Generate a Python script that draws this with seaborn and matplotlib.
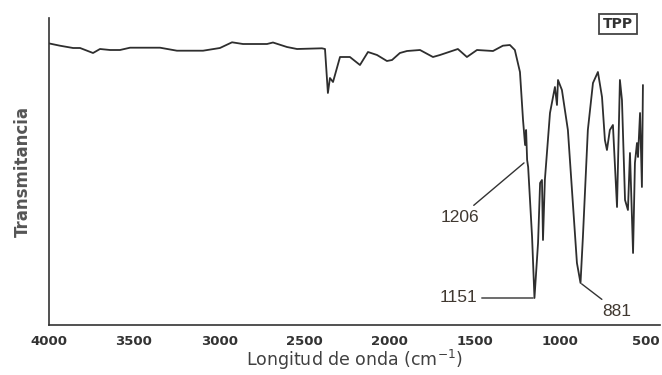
import matplotlib
matplotlib.use("Agg")
import matplotlib.pyplot as plt
import seaborn as sns
import pandas as pd
from matplotlib.ticker import MultipleLocator

# Wavenumber (cm-1) and transmittance (arbitrary units)
wavenumber = [4000, 3933, 3856, 3815, 3739, 3698, 3639, 3581, 3522, 3346, 3247,
              3094, 2995, 2924, 2860, 2719, 2684, 2602, 2543, 2397, 2379, 2362,
              2350, 2332, 2291, 2233, 2174, 2127, 2074, 2016, 1986, 1940, 1898,
              1822, 1746, 1705, 1600, 1547, 1488, 1394, 1336, 1295, 1266, 1236,
              1218, 1206, 1200, 1194, 1188, 1165, 1151, 1130, 1118, 1107, 1101,
              1090, 1060, 1031, 1019, 1013, 990, 955, 902, 881, 867, 838, 808,
              779, 755, 738, 726, 709, 691, 667, 650, 638, 620, 603, 591, 573,
              562, 550, 544, 532, 521, 515]
transmittance = [281.7, 279.3, 277, 277, 272, 276, 275, 275, 277.3, 277.3, 274.3,
                 274.3, 277, 282.7, 281, 281, 282.5, 278, 276, 276.7, 276, 232,
                 247, 243, 268, 268, 260, 273, 270, 264, 265, 272, 274,
                 275, 268, 270, 276, 268, 275, 274, 279.3, 280, 275, 253,
                 205, 180, 195, 165, 158, 88, 27, 82, 142, 145, 85,
                 145, 212, 238, 220, 245, 235, 195, 62, 42, 88, 195, 242,
                 253, 228, 185, 175, 195, 200, 118, 245, 225, 125, 115, 172, 72,
                 162, 182, 168, 212, 138, 240]

peak_labels = ["1206", "1151", "881"]
peak_x = [1206, 1151, 881]
peak_y = [163, 27, 42]
label_x = [1588, 1598, 667]
label_y = [108, 27, 14]

xticks = [4000, 3500, 3000, 2500, 2000, 1500, 1000, 500]

df = pd.DataFrame({"wn": wavenumber, "T": transmittance})

sns.set_style("white")
plt.rcParams["font.family"] = ["DejaVu Sans"]

fig = plt.figure(figsize=(6.62, 3.75), dpi=100)
ax = fig.add_axes([48.5 / 662, 50 / 375, (660 - 48.5) / 662, 307 / 375])

sns.lineplot(data=df, x="wn", y="T", sort=False, color="#2e2e2e",
             linewidth=1.3, ax=ax)

ax.set_xlim(4000, 415)
ax.set_ylim(0, 307)
ax.set_xticks(xticks)
ax.xaxis.set_minor_locator(MultipleLocator(250))
ax.set_yticks([])

for s in ["top", "right"]:
    ax.spines[s].set_visible(False)
for s in ["left", "bottom"]:
    ax.spines[s].set_color("#333333")
    ax.spines[s].set_linewidth(1.2)

ax.tick_params(axis="x", which="major", direction="out", length=4, width=1.1,
               color="#333333", pad=3, labelsize=9.5, labelcolor="#333333")
ax.tick_params(axis="x", which="minor", direction="out", length=3, width=1.0,
               color="#333333")
for lab in ax.get_xticklabels():
    lab.set_fontweight("bold")

ax.set_xlabel("Longitud de onda (cm$^{-1}$)", fontsize=12.5, color="#404040",
              labelpad=0)
ax.set_ylabel("Transmitancia", fontsize=12, fontweight="bold", color="#555555",
              labelpad=12)

for lab, px, py, lx, ly in zip(peak_labels, peak_x, peak_y, label_x, label_y):
    ax.annotate(lab, xy=(px, py), xytext=(lx, ly), textcoords="data",
                ha="center", va="center", fontsize=12.5, color="#403830",
                family="Liberation Sans",
                arrowprops=dict(arrowstyle="-", color="#333333", lw=1.0,
                                shrinkA=1, shrinkB=1))

fig.text(618 / 662, 1 - 24 / 375, "TPP", ha="center", va="center",
         fontsize=10, fontweight="bold", color="#333333",
         bbox=dict(boxstyle="square,pad=0.25", facecolor="white",
                   edgecolor="#444444", linewidth=1.3))

fig.savefig("out.png", dpi=100)
